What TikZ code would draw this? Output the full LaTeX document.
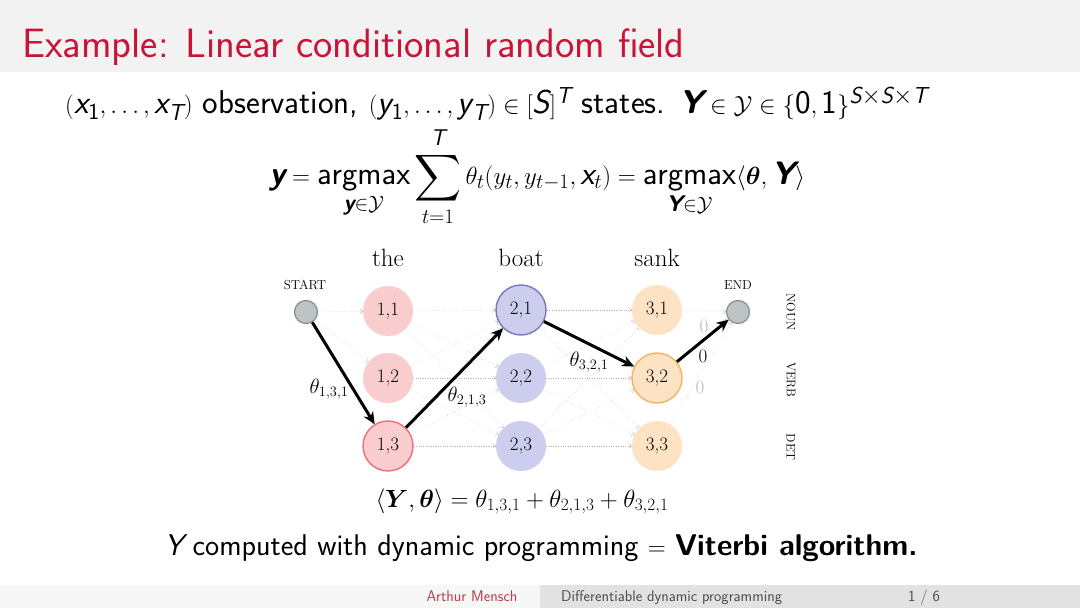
\documentclass[tikz,border=0pt]{standalone}
\usepackage{amsmath,amssymb}
\usetikzlibrary{arrows.meta}
\DeclareMathAlphabet{\mathsfit}{TU}{lmss}{m}{sl}
\DeclareMathAlphabet{\mathsfbit}{TU}{lmss}{bx}{sl}
\DeclareMathAlphabet{\mathsfup}{TU}{lmss}{m}{n}
\definecolor{headergray}{RGB}{242,242,242}
\definecolor{titlered}{RGB}{200,20,55}
\definecolor{footlight}{RGB}{247,247,247}
\definecolor{footdark}{RGB}{226,226,226}
\definecolor{footred}{RGB}{185,60,80}
\definecolor{pinkfill}{RGB}{249,205,205}
\definecolor{pinkedge}{RGB}{238,110,125}
\definecolor{bluefill}{RGB}{205,205,238}
\definecolor{blueedge}{RGB}{120,120,190}
\definecolor{orfill}{RGB}{253,226,196}
\definecolor{oredge}{RGB}{245,180,95}
\definecolor{endfill}{RGB}{190,196,196}
\definecolor{endedge}{RGB}{135,142,142}
\tikzset{
  st/.style={circle, minimum size=50pt, inner sep=0pt, font=\fontsize{19}{19}\selectfont},
  cA/.style={st, fill=pinkfill, draw=pinkfill!80!red!40},
  cB/.style={st, fill=bluefill, draw=bluefill!80!blue!40},
  cC/.style={st, fill=orfill, draw=orfill!85!orange!40},
  term/.style={circle, minimum size=23pt, inner sep=0pt, fill=endfill, draw=endedge, line width=1.2pt},
  weak/.style={draw=gray!62, dotted, thin, -{To[length=3pt,width=5pt]}},
  strong/.style={draw=black, line width=3pt, -{Stealth[length=12pt,width=11pt]}},
  word/.style={font=\fontsize{25}{25}\selectfont, anchor=base},
  small/.style={font=\fontsize{13}{13}\selectfont},
  elab/.style={font=\fontsize{20}{20}\selectfont},
  zlab/.style={font=\fontsize{19}{19}\selectfont, text=gray!55},
  side/.style={font=\fontsize{12.5}{13}\selectfont, rotate=-90},
  body/.style={font=\sffamily\fontsize{33}{34}\selectfont},
  foot/.style={inner sep=0pt, font=\sffamily\fontsize{15.5}{16}\selectfont},
}
\begin{document}
\begin{tikzpicture}[x=1pt,y=-1pt]
\useasboundingbox (0,0) rectangle (1080,608);
\fill[headergray] (0,0) rectangle (1080,72);
\node[anchor=base west, inner sep=0pt, text=titlered, font=\sffamily\fontsize{41}{41}\selectfont] (title) at (22,57) {Example: Linear conditional random field};

\node[body, anchor=base west, inner sep=0pt] (l1) at (65,113) {$(\mathsfit{x}_{\mathsfup{1}},\dots,\mathsfit{x}_{\mathsfit{T}})$ observation, $(\mathsfit{y}_{\mathsfup{1}},\dots,\mathsfit{y}_{\mathsfit{T}})\in[\mathsfit{S}]^{\mathsfit{T}}$ states. $\mathsfbit{Y}\in\mathcal{Y}\in\{\mathsfup{0},\mathsfup{1}\}^{\mathsfit{S}\times \mathsfit{S}\times \mathsfit{T}}$};

\node[body, anchor=base, inner sep=0pt, font=\sffamily\fontsize{32.5}{33}\selectfont] (eq) at (537,184) {$\displaystyle \mathsfbit{y}=\operatorname*{\mathsfup{argmax}}_{\mathsfbit{y}\in\mathcal{Y}}\sum_{t=1}^{\mathsfit{T}}\theta_t(y_t,y_{t-1},\mathsfit{x}_t)=\operatorname*{\mathsfup{argmax}}_{\mathsfbit{Y}\in\mathcal{Y}}\langle\boldsymbol{\theta},\mathsfbit{Y}\rangle$};

% words
\node[word] (w1) at (388,266) {the};
\node[word] (w2) at (521,266) {boat};
\node[word] (w3) at (657,266) {sank};

% nodes
\node[term] (start) at (306,312) {};
\node[small, anchor=base] (startl) at (305,289) {START};
\node[term] (end) at (738,312) {};
\node[small, anchor=base] (endl) at (738,289) {END};

\node[cA] (a1) at (388,311) {1,1};
\node[cA] (a2) at (388,378) {1,2};
\node[cA, draw=pinkedge, line width=1.4pt] (a3) at (388,446) {1,3};
\node[cB, draw=blueedge, line width=1.4pt] (b1) at (521,310) {2,1};
\node[cB] (b2) at (521,378) {2,2};
\node[cB] (b3) at (521,446) {2,3};
\node[cC] (c1) at (657,310) {3,1};
\node[cC, draw=oredge, line width=1.4pt] (c2) at (657,378) {3,2};
\node[cC] (c3) at (657,446) {3,3};

\node[side] (noun) at (791,312) {NOUN};
\node[side] (verb) at (791,380) {VERB};
\node[side] (det) at (791,447) {DET};

% weak edges
\foreach \t in {a1,a2,a3} \draw[weak] (start) -- (\t);
\foreach \s in {a1,a2,a3} \foreach \t in {b1,b2,b3} \draw[weak] (\s) -- (\t);
\foreach \s in {b1,b2,b3} \foreach \t in {c1,c2,c3} \draw[weak] (\s) -- (\t);
\foreach \s in {c1,c2,c3} \draw[weak] (\s) -- (end);

\node[zlab] (z1) at (704,326) {0};
\node[zlab] (z3) at (700,387) {0};

% strong path
\draw[strong] (start) -- (a3);
\draw[strong] (a3) -- (b1);
\draw[strong] (b1) -- (c2);
\draw[strong] (c2) -- (end);
\node[elab] (t1) at (329,389) {$\theta_{1,3,1}$};
\node[elab] (t2) at (467,397) {$\theta_{2,1,3}$};
\node[elab] (t3) at (589,362) {$\theta_{3,2,1}$};
\node[zlab, text=black] (z2) at (703,356) {0};

\node[anchor=base, inner sep=0pt, font=\fontsize{27}{27}\selectfont] (sum) at (522,507) {$\langle\boldsymbol{Y},\boldsymbol{\theta}\rangle=\theta_{1,3,1}+\theta_{2,1,3}+\theta_{3,2,1}$};

\node[body, anchor=base, inner sep=0pt, font=\sffamily\fontsize{30}{31}\selectfont] (last) at (541,555) {$\mathsfit{Y}$ computed with dynamic programming $=$ \textbf{Viterbi algorithm.}};

% footer
\fill[footlight] (0,585) rectangle (540,608);
\fill[footdark] (540,585) rectangle (1080,608);
\node[foot, anchor=base, text=footred] (auth) at (472,601) {Arthur Mensch};
\node[foot, anchor=base west, text=black!70] (ftitle) at (561,601) {Differentiable dynamic programming};
\node[foot, anchor=base, text=black!70] (pg) at (924,601) {1 / 6};
\end{tikzpicture}
\end{document}
